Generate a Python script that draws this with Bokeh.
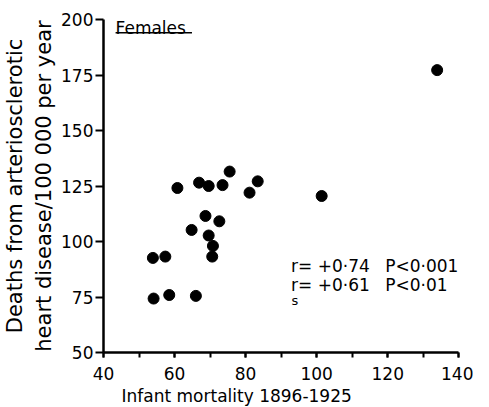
from bokeh.plotting import figure
from bokeh.models import Label, SingleIntervalTicker, Range1d, Title
from bokeh.embed import file_html
from bokeh.resources import INLINE

# Data
infant_mortality = [53.9, 57.4, 54.1, 58.5, 66.0, 64.8, 68.7, 69.6, 70.8, 70.6,
                    72.6, 60.8, 66.9, 69.6, 73.5, 75.5, 81.1, 83.4, 101.4, 133.9]
deaths_ashd = [92.6, 93.2, 74.3, 75.9, 75.5, 105.2, 111.5, 102.7, 98.0, 93.2,
               109.1, 124.1, 126.5, 125.0, 125.4, 131.5, 122.0, 127.1, 120.5, 177.2]
x_ticks = [40, 60, 80, 100, 120, 140]
y_ticks = [50, 75, 100, 125, 150, 175, 200]

FONT = "DejaVu Sans"
FS = "17px"

X_END = 40 + 377 / 3.66

p = figure(width=473, height=407, output_backend="svg", toolbar_location=None,
           x_range=Range1d(40, X_END), y_range=Range1d(50, 200),
           min_border_left=92, min_border_right=4, min_border_top=19, min_border_bottom=55)
p.outline_line_color = None
p.xgrid.grid_line_color = None
p.ygrid.grid_line_color = None
p.background_fill_color = "white"
p.border_fill_color = "white"

p.scatter(infant_mortality, deaths_ashd, size=11, color="black", line_color="black")

# axes
p.xaxis.ticker = SingleIntervalTicker(interval=20, num_minor_ticks=2)
p.xaxis.bounds = (40, 140)
p.yaxis.ticker = SingleIntervalTicker(interval=25, num_minor_ticks=0)
for ax in (p.xaxis[0], p.yaxis[0]):
    ax.axis_line_width = 2.5
    ax.axis_line_color = "black"
    ax.major_tick_line_width = 2
    ax.major_tick_line_color = "black"
    ax.major_tick_in = 0
    ax.minor_tick_in = 0
    ax.major_label_text_font = FONT
    ax.major_label_text_font_size = FS
    ax.major_label_text_color = "black"
p.xaxis.major_tick_out = 5
p.xaxis.minor_tick_out = 5
p.xaxis.minor_tick_line_width = 2
p.xaxis.minor_tick_line_color = "black"
p.xaxis.major_label_standoff = 9
p.yaxis.major_tick_out = 8
p.yaxis.minor_tick_line_color = None
p.yaxis.major_label_standoff = 2

p.yaxis.axis_label = "Deaths from arteriosclerotic\nheart disease/100 000 per year"
p.yaxis.axis_label_text_font = FONT
p.yaxis.axis_label_text_font_size = "21px"
p.yaxis.axis_label_text_font_style = "normal"
p.yaxis.axis_label_text_color = "black"
p.yaxis.axis_label_standoff = 2

# x axis title (offset left as in the reference)
p.add_layout(Title(text="Infant mortality 1896-1925", align="left", offset=18,
                   text_font=FONT, text_font_size=FS, text_font_style="normal",
                   text_color="black", standoff=2), "below")

# Panel title with underline
p.add_layout(Label(x=43.4, y=196, text="Females", text_font=FONT, text_font_size=FS,
                   text_align="left", text_baseline="alphabetic", text_color="black"))
p.segment(x0=[43.4], y0=[194.0], x1=[64.9], y1=[194.0], line_color="black", line_width=1.5)

# Correlation statistics
stat_kw = dict(text_font=FONT, text_font_size=FS, text_align="left",
               text_baseline="alphabetic", text_color="black")
p.add_layout(Label(x=92.8, y=88.9, text="r= +0·74", **stat_kw))
p.add_layout(Label(x=119.3, y=88.9, text="P<0·001", **stat_kw))
p.add_layout(Label(x=92.8, y=80.6, text="r= +0·61", **stat_kw))
p.add_layout(Label(x=119.3, y=80.6, text="P<0·01", **stat_kw))
p.add_layout(Label(x=92.9, y=73.4, text="s", text_font=FONT, text_font_size="13px",
                   text_align="left", text_baseline="alphabetic", text_color="black"))

open("out.html", "w").write(file_html(p, INLINE))
